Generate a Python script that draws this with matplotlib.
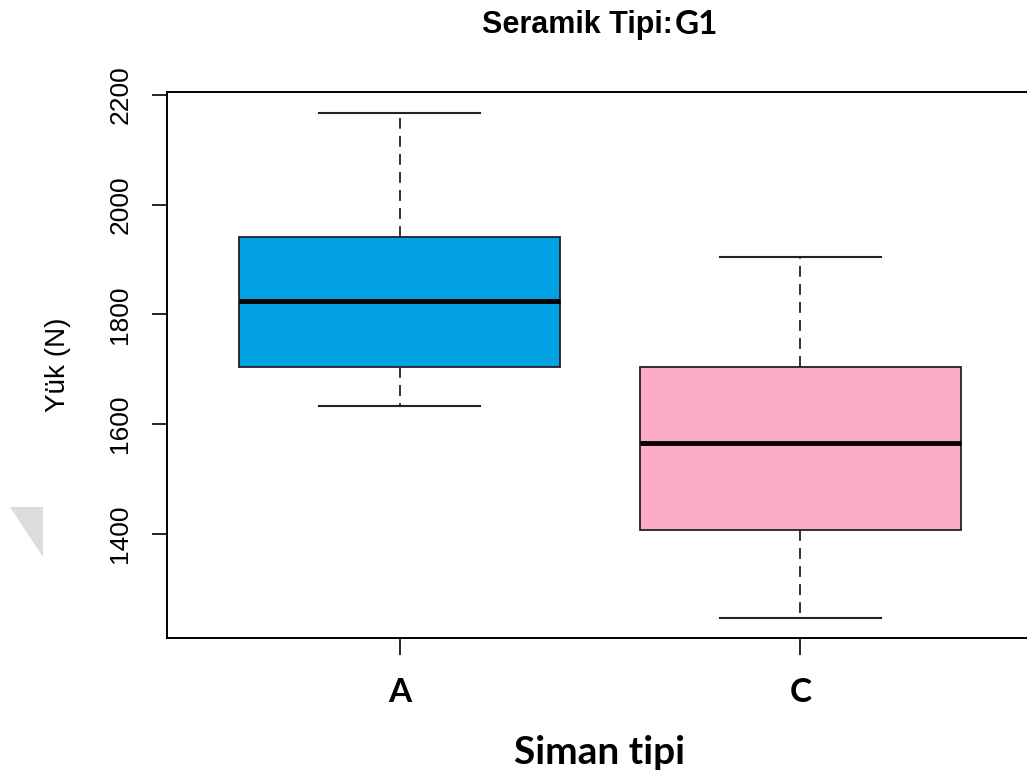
import matplotlib
matplotlib.use("Agg")
import matplotlib.pyplot as plt
from matplotlib import font_manager
from matplotlib.patches import Polygon

# Five-number summaries for each cement type (load in N)
categories = ["A", "C"]
whisker_low = [1633, 1247]
q1 = [1705, 1407]
medians = [1825, 1565]
q3 = [1942, 1705]
whisker_high = [2168, 1904]
box_colors = ["#00A0E3", "#FBABC8"]
y_ticks = [1400, 1600, 1800, 2000, 2200]

installed = {f.name for f in font_manager.fontManager.ttflist}
narrow = "Liberation Sans Narrow" if "Liberation Sans Narrow" in installed else "Liberation Sans"

W, H = 1027, 778
fig = plt.figure(figsize=(W / 100, H / 100), dpi=100)
ax = fig.add_axes([167 / W, 1 - 638 / H, (1033 - 167) / W, (638 - 92) / H])

stats = []
for i, name in enumerate(categories):
    stats.append(dict(label=name, whislo=whisker_low[i], q1=q1[i], med=medians[i],
                      q3=q3[i], whishi=whisker_high[i], fliers=[]))

positions = list(range(1, len(categories) + 1))
bp = ax.bxp(stats, positions=positions, widths=0.8, patch_artist=True,
            showfliers=False,
            boxprops=dict(linewidth=1.3, edgecolor="#222222"),
            medianprops=dict(color="black", linewidth=3.5, solid_capstyle="butt"),
            whiskerprops=dict(color="#222222", linewidth=1.3, linestyle=(0, (6, 4))),
            capprops=dict(color="#222222", linewidth=1.5),
            capwidths=0.4)
for patch, c in zip(bp["boxes"], box_colors):
    patch.set_facecolor(c)

ax.set_xlim(0.42, 2.58)
ax.set_ylim(1210, 2205.5)
ax.set_yticks(y_ticks)
ax.set_yticklabels([str(t) for t in y_ticks], rotation=90, va="center",
                   fontsize=19, family="Liberation Sans")
ax.set_xticks(positions)
ax.set_xticklabels(categories, fontsize=24, fontweight="bold", family="Lato")
ax.tick_params(axis="y", direction="out", length=11, width=1.2, pad=14)
ax.tick_params(axis="x", direction="out", length=12, width=1.2, pad=17)
for s in ax.spines.values():
    s.set_linewidth(1.4)

ax.set_ylabel("Yük (N)", fontsize=20, family="Liberation Sans", labelpad=27)
ax.set_xlabel("Siman tipi", fontsize=28, fontweight="bold", family="Lato", labelpad=20)

fig.text(673 / W, 1 - 25 / H, "Seramik Tipi:", ha="right", va="center",
         fontsize=22, fontweight="bold", family=narrow)
fig.text(675 / W, 1 - 24 / H, "G1", ha="left", va="center",
         fontsize=24, fontweight="bold", family="Lato")

# faint grey corner mark at the left edge
tri = Polygon([[10 / W, 1 - 507 / H], [43 / W, 1 - 507 / H], [43 / W, 1 - 557 / H]],
              closed=True, transform=fig.transFigure, facecolor="#DCDCDC",
              edgecolor="none")
fig.patches.append(tri)

fig.savefig("out.png", dpi=100)
